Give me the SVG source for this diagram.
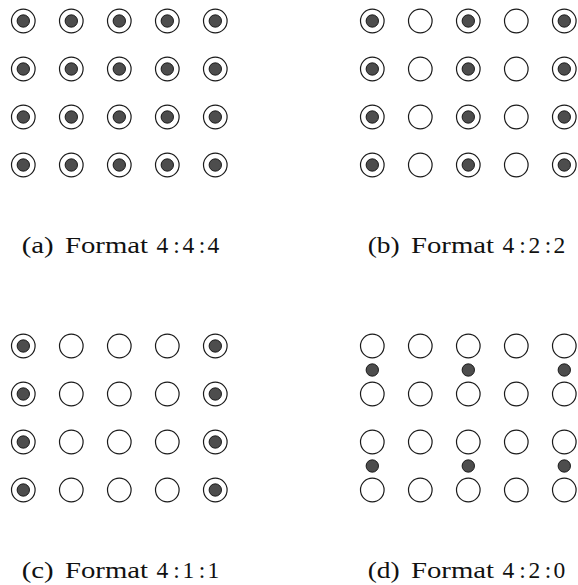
<svg xmlns="http://www.w3.org/2000/svg" width="578" height="585" viewBox="0 0 578 585">
<style>
.o{fill:#fff;stroke:#1a1a1a;stroke-width:1.2}
.i{fill:#4d4d4d;stroke:#111;stroke-width:0.9}
.cap{font-family:"Liberation Serif","Times New Roman",serif;font-size:23.5px;fill:#111}
</style>
<defs>
<g id="full"><circle class="o" r="11.8"/><circle class="i" r="6.2"/></g>
<circle id="empty" class="o" r="11.8"/>
<circle id="dot" class="i" r="6.2"/>
</defs>
<rect width="578" height="585" fill="#fff"/>
<g id="panel-a">
<use href="#full" x="23.3" y="21"/><use href="#full" x="71.3" y="21"/><use href="#full" x="119.3" y="21"/><use href="#full" x="167.3" y="21"/><use href="#full" x="215.3" y="21"/>
<use href="#full" x="23.3" y="69"/><use href="#full" x="71.3" y="69"/><use href="#full" x="119.3" y="69"/><use href="#full" x="167.3" y="69"/><use href="#full" x="215.3" y="69"/>
<use href="#full" x="23.3" y="117"/><use href="#full" x="71.3" y="117"/><use href="#full" x="119.3" y="117"/><use href="#full" x="167.3" y="117"/><use href="#full" x="215.3" y="117"/>
<use href="#full" x="23.3" y="165"/><use href="#full" x="71.3" y="165"/><use href="#full" x="119.3" y="165"/><use href="#full" x="167.3" y="165"/><use href="#full" x="215.3" y="165"/>
<text class="cap" y="253"><tspan x="21.7" textLength="32" lengthAdjust="spacingAndGlyphs">(a)</tspan><tspan x="65" textLength="83" lengthAdjust="spacingAndGlyphs">Format</tspan><tspan x="156.5">4</tspan><tspan x="173.3">:</tspan><tspan x="182.5">4</tspan><tspan x="198.8">:</tspan><tspan x="207.5">4</tspan></text>
</g>
<g id="panel-b">
<use href="#full" x="372.3" y="21"/><use href="#empty" x="420.3" y="21"/><use href="#full" x="468.3" y="21"/><use href="#empty" x="516.3" y="21"/><use href="#full" x="564.3" y="21"/>
<use href="#full" x="372.3" y="69"/><use href="#empty" x="420.3" y="69"/><use href="#full" x="468.3" y="69"/><use href="#empty" x="516.3" y="69"/><use href="#full" x="564.3" y="69"/>
<use href="#full" x="372.3" y="117"/><use href="#empty" x="420.3" y="117"/><use href="#full" x="468.3" y="117"/><use href="#empty" x="516.3" y="117"/><use href="#full" x="564.3" y="117"/>
<use href="#full" x="372.3" y="165"/><use href="#empty" x="420.3" y="165"/><use href="#full" x="468.3" y="165"/><use href="#empty" x="516.3" y="165"/><use href="#full" x="564.3" y="165"/>
<text class="cap" y="253"><tspan x="367.7" textLength="32" lengthAdjust="spacingAndGlyphs">(b)</tspan><tspan x="411" textLength="83" lengthAdjust="spacingAndGlyphs">Format</tspan><tspan x="502.5">4</tspan><tspan x="519.3">:</tspan><tspan x="528.5">2</tspan><tspan x="544.8">:</tspan><tspan x="553.5">2</tspan></text>
</g>
<g id="panel-c">
<use href="#full" x="23.3" y="346"/><use href="#empty" x="71.3" y="346"/><use href="#empty" x="119.3" y="346"/><use href="#empty" x="167.3" y="346"/><use href="#full" x="215.3" y="346"/>
<use href="#full" x="23.3" y="394"/><use href="#empty" x="71.3" y="394"/><use href="#empty" x="119.3" y="394"/><use href="#empty" x="167.3" y="394"/><use href="#full" x="215.3" y="394"/>
<use href="#full" x="23.3" y="442"/><use href="#empty" x="71.3" y="442"/><use href="#empty" x="119.3" y="442"/><use href="#empty" x="167.3" y="442"/><use href="#full" x="215.3" y="442"/>
<use href="#full" x="23.3" y="490"/><use href="#empty" x="71.3" y="490"/><use href="#empty" x="119.3" y="490"/><use href="#empty" x="167.3" y="490"/><use href="#full" x="215.3" y="490"/>
<text class="cap" y="578"><tspan x="21.7" textLength="32" lengthAdjust="spacingAndGlyphs">(c)</tspan><tspan x="65" textLength="83" lengthAdjust="spacingAndGlyphs">Format</tspan><tspan x="156.5">4</tspan><tspan x="173.3">:</tspan><tspan x="182.5">1</tspan><tspan x="198.8">:</tspan><tspan x="207.5">1</tspan></text>
</g>
<g id="panel-d">
<use href="#empty" x="372.3" y="346"/><use href="#empty" x="420.3" y="346"/><use href="#empty" x="468.3" y="346"/><use href="#empty" x="516.3" y="346"/><use href="#empty" x="564.3" y="346"/>
<use href="#empty" x="372.3" y="394"/><use href="#empty" x="420.3" y="394"/><use href="#empty" x="468.3" y="394"/><use href="#empty" x="516.3" y="394"/><use href="#empty" x="564.3" y="394"/>
<use href="#empty" x="372.3" y="442"/><use href="#empty" x="420.3" y="442"/><use href="#empty" x="468.3" y="442"/><use href="#empty" x="516.3" y="442"/><use href="#empty" x="564.3" y="442"/>
<use href="#empty" x="372.3" y="490"/><use href="#empty" x="420.3" y="490"/><use href="#empty" x="468.3" y="490"/><use href="#empty" x="516.3" y="490"/><use href="#empty" x="564.3" y="490"/>
<use href="#dot" x="372.3" y="370"/><use href="#dot" x="468.3" y="370"/><use href="#dot" x="564.3" y="370"/>
<use href="#dot" x="372.3" y="466"/><use href="#dot" x="468.3" y="466"/><use href="#dot" x="564.3" y="466"/>
<text class="cap" y="578"><tspan x="367.7" textLength="32" lengthAdjust="spacingAndGlyphs">(d)</tspan><tspan x="411" textLength="83" lengthAdjust="spacingAndGlyphs">Format</tspan><tspan x="502.5">4</tspan><tspan x="519.3">:</tspan><tspan x="528.5">2</tspan><tspan x="544.8">:</tspan><tspan x="553.5">0</tspan></text>
</g>
</svg>
